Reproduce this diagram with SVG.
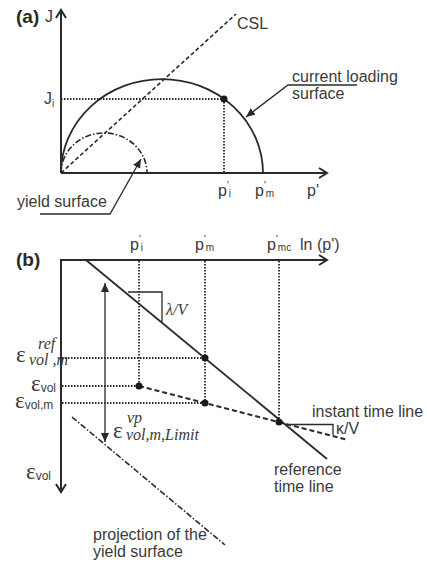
<svg xmlns="http://www.w3.org/2000/svg" width="427" height="563" viewBox="0 0 427 563">
<style>
.ax{stroke:#2a2a2a;stroke-width:2;fill:none}
.ln{stroke:#2a2a2a;stroke-width:1.8;fill:none}
.thin{stroke:#2a2a2a;stroke-width:1.3;fill:none}
.dot{stroke:#2a2a2a;stroke-width:1.8;stroke-dasharray:1.5 1.5;fill:none}
.dash{stroke:#2a2a2a;stroke-width:1.6;stroke-dasharray:4 2.5;fill:none}
.dashb{stroke:#2a2a2a;stroke-width:2;stroke-dasharray:5 3;fill:none}
.dd{stroke:#2a2a2a;stroke-width:1.6;stroke-dasharray:6 2 1.5 2;fill:none}
.pt{fill:#1a1a1a}
text{font-family:"Liberation Sans",Arial,sans-serif;font-size:16px;fill:#3a3a3a}
.lab{font-weight:bold;font-size:19px;fill:#2a2a2a}
.eps{font-family:"Liberation Serif","Times New Roman",serif;font-size:23px}
.it{font-family:"Liberation Serif","Times New Roman",serif;font-style:italic}
.sm{font-size:10px}
</style>
<defs>
<marker id="open" markerUnits="userSpaceOnUse" markerWidth="14" markerHeight="14" refX="10" refY="6" orient="auto">
<path d="M2,1 L10,6 L2,11" fill="none" stroke="#2a2a2a" stroke-width="2"/>
</marker>
<marker id="fill" markerUnits="userSpaceOnUse" markerWidth="12" markerHeight="10" refX="9" refY="4" orient="auto">
<path d="M0,0 L9,4 L0,8 Z" fill="#2a2a2a"/>
</marker>
<marker id="fillr" markerUnits="userSpaceOnUse" markerWidth="12" markerHeight="10" refX="0" refY="4" orient="auto">
<path d="M9,0 L0,4 L9,8 Z" fill="#2a2a2a"/>
</marker>
</defs>

<g id="panel-a">
<g id="axes-a">
<line class="ax" x1="61" y1="173" x2="61" y2="10" marker-end="url(#open)"/>
<line class="ax" x1="61" y1="173" x2="327" y2="173" marker-end="url(#open)"/>
</g>
<g id="labels-a">
<text class="lab" x="16" y="23">(a)</text>
<text x="45" y="22">J</text>
<text x="44" y="104">J<tspan class="sm" dy="3">i</tspan></text>
<text x="218" y="196">p<tspan class="sm" dy="-7">'</tspan><tspan class="sm" dy="8">i</tspan></text>
<text x="255" y="196">p<tspan class="sm" dy="-7">'</tspan><tspan class="sm" dy="8">m</tspan></text>
<text x="307" y="196">p'</text>
</g>
<g id="csl">
<line class="dash" x1="61" y1="173" x2="236" y2="14"/>
<text x="237" y="29">CSL</text>
</g>
<g id="current-loading-surface">
<path class="ln" d="M61,173 A101,94 0 0 1 263,173"/>
<line class="dot" x1="61" y1="99" x2="224" y2="99"/>
<line class="dot" x1="224" y1="99" x2="224" y2="173"/>
<circle class="pt" cx="224" cy="99" r="3.5"/>
<text x="292" y="82">current loading</text>
<text x="292" y="99">surface</text>
</g>
<g id="yield-surface">
<path class="dd" d="M61,173 A43,40 0 0 1 147,173"/>
<text x="17" y="207">yield surface</text>
</g>
</g>

<g id="panel-b">
<g id="axes-b">
<line class="ax" x1="61" y1="260" x2="327" y2="260" marker-end="url(#open)"/>
<line class="ax" x1="61" y1="259" x2="61" y2="492" marker-end="url(#open)"/>
</g>
<g id="labels-b">
<text class="lab" x="16" y="266">(b)</text>
<text x="130" y="250">p<tspan class="sm" dy="-7">'</tspan><tspan class="sm" dy="8">i</tspan></text>
<text x="195" y="250">p<tspan class="sm" dy="-7">'</tspan><tspan class="sm" dy="8">m</tspan></text>
<text x="267" y="250">p<tspan class="sm" dy="-7">'</tspan><tspan class="sm" dy="8">mc</tspan></text>
<text x="300" y="250">ln (p')</text>
<text class="eps" x="16" y="362">ε</text>
<text class="it" x="38" y="349" font-size="12">ref</text>
<text class="it" x="29" y="365" font-size="11">vol ,m</text>
<text class="eps" x="31" y="391">ε<tspan font-family="Liberation Sans" font-size="12" dy="1">vol</tspan></text>
<text class="eps" x="15" y="408">ε<tspan font-family="Liberation Sans" font-size="12" dy="1">vol,m</tspan></text>
<text class="eps" x="26" y="479">ε<tspan font-family="Liberation Sans" font-size="12" dy="1">vol</tspan></text>
</g>
<g id="guides-b">
<line class="dot" x1="139" y1="261" x2="139" y2="386"/>
<line class="dot" x1="205" y1="261" x2="205" y2="403"/>
<line class="dot" x1="279" y1="261" x2="279" y2="422"/>
<line class="dot" x1="62" y1="358" x2="205" y2="358"/>
<line class="dot" x1="62" y1="386" x2="139" y2="386"/>
<line class="dot" x1="62" y1="403" x2="205" y2="403"/>
</g>
<g id="reference-time-line">
<line class="ln" x1="86" y1="260" x2="327" y2="459"/>
<polyline class="thin" points="128,292 162,292 162,322"/>
<text class="it" x="166" y="315" font-size="17">λ/V</text>
<text x="274" y="475">reference</text>
<text x="274" y="492">time line</text>
</g>
<g id="instant-time-line">
<line class="dashb" x1="139" y1="386" x2="348" y2="440"/>
<polyline class="thin" points="290,424.5 333,424.5 333,435"/>
<text x="336" y="434">κ/V</text>
<text x="312" y="417">instant time line</text>
</g>
<g id="points-b">
<circle class="pt" cx="205" cy="358" r="3.5"/>
<circle class="pt" cx="139" cy="386" r="3.5"/>
<circle class="pt" cx="205" cy="403" r="3.5"/>
<circle class="pt" cx="279" cy="422" r="3.5"/>
</g>
<g id="yield-projection">
<line class="dd" x1="72" y1="417" x2="225" y2="545"/>
<text x="93" y="540">projection of the</text>
<text x="93" y="557">yield surface</text>
</g>
<g id="eps-vp">
<text class="eps" x="113" y="438">ε</text>
<text class="it" x="127" y="423" font-size="12">vp</text>
<text class="it" x="126" y="440" font-size="11">vol,m,Limit</text>
</g>
</g>

<g id="connectors">
<polyline class="thin" points="357,85 288,85 246,117" marker-end="url(#fill)"/>
<polyline class="thin" points="40,214 110,214 141,159" marker-end="url(#fill)"/>
<line class="thin" x1="105" y1="283" x2="105" y2="442" marker-start="url(#fillr)" marker-end="url(#fill)"/>
</g>
</svg>
